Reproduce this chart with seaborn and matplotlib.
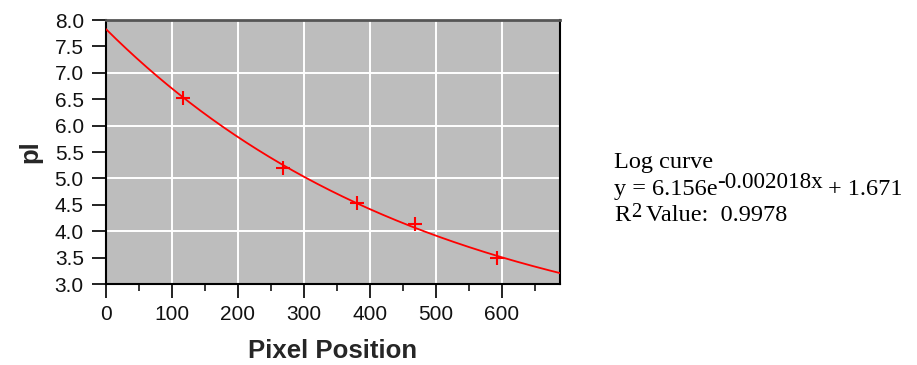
import numpy as np
import pandas as pd
import matplotlib
matplotlib.use("Agg")
import matplotlib.pyplot as plt
from matplotlib.ticker import MultipleLocator, FormatStrFormatter
import seaborn as sns

# Measured calibration points
pixel_position = [117, 268, 380, 469, 592]
pl_value = [6.52, 5.19, 4.54, 4.14, 3.50]

# Fitted curve parameters: y = a * exp(b * x) + c
fit_a = 6.156
fit_b = -0.002018
fit_c = 1.671
r_squared = 0.9978

x_max = 688

sns.set_theme(style="ticks")
plt.rcParams["font.family"] = ["Liberation Sans", "DejaVu Sans"]

W, H = 917, 365
fig = plt.figure(figsize=(W / 100, H / 100), dpi=100)
ax = fig.add_axes([106 / W, 1 - 284 / H, 454 / W, 264 / H])
ax.set_facecolor("#bdbdbd")

points = pd.DataFrame({"x": pixel_position, "y": pl_value})
xs = np.linspace(0, x_max, 400)
curve = pd.DataFrame({"x": xs, "y": fit_a * np.exp(fit_b * xs) + fit_c})

sns.lineplot(data=curve, x="x", y="y", ax=ax, color="#ff0000", linewidth=1.3, zorder=3)
sns.scatterplot(data=points, x="x", y="y", ax=ax, marker="+", s=110,
                color="#ff0000", linewidth=1.5, zorder=4)

ax.set_xlim(0, x_max)
ax.set_ylim(3.0, 8.0)

ax.xaxis.set_major_locator(MultipleLocator(100))
ax.xaxis.set_minor_locator(MultipleLocator(50))
ax.yaxis.set_major_locator(MultipleLocator(1.0))
ax.yaxis.set_minor_locator(MultipleLocator(0.5))
ax.yaxis.set_major_formatter(FormatStrFormatter("%.1f"))
ax.yaxis.set_minor_formatter(FormatStrFormatter("%.1f"))

ax.grid(True, which="major", color="white", linewidth=1.4)
ax.set_axisbelow(True)

ax.tick_params(axis="x", which="major", length=10, width=1.3, pad=5,
               labelsize=15, colors="#111111", direction="out")
ax.tick_params(axis="x", which="minor", length=5, width=1.3, direction="out")
ax.tick_params(axis="y", which="both", length=10, width=1.3, pad=6,
               labelsize=15, colors="#111111", direction="out")

for side in ["left", "bottom", "right"]:
    ax.spines[side].set_color("black")
    ax.spines[side].set_linewidth(1.5)
ax.spines["top"].set_color("#555555")
ax.spines["top"].set_linewidth(2)

ax.set_xlabel("Pixel Position", fontsize=18.5, fontweight="bold", labelpad=11)
ax.set_ylabel("pl", fontsize=18.5, fontweight="bold", labelpad=9)

# Fit summary written beside the chart, with raised exponents
fig.canvas.draw()
renderer = fig.canvas.get_renderer()
serif = ["Liberation Serif", "DejaVu Serif"]
fs = 17.5


def write_runs(x_px, baseline_px, runs):
    x = x_px
    for text, raise_px, gap_px, scale in runs:
        x += gap_px
        t = fig.text(x / W, (H - baseline_px + raise_px) / H, text,
                     fontsize=fs * scale, family=serif, ha="left",
                     va="baseline", color="black")
        x = t.get_window_extent(renderer).x1


write_runs(614, 168, [("Log curve", 0, 0, 1.0)])
write_runs(614, 195, [("y = %.3fe" % fit_a, 0, 0, 1.0),
                      ("%.6f" % fit_b + "x", 7, -1, 0.95),
                      ("+ %.3f" % fit_c, 0, 6, 1.0)])
write_runs(614, 221, [("R", 0, 0, 1.0), ("2", 4, 1, 0.85),
                      ("Value:  %.4f" % r_squared, 0, 5, 1.0)])

fig.savefig("out.png", dpi=100)
